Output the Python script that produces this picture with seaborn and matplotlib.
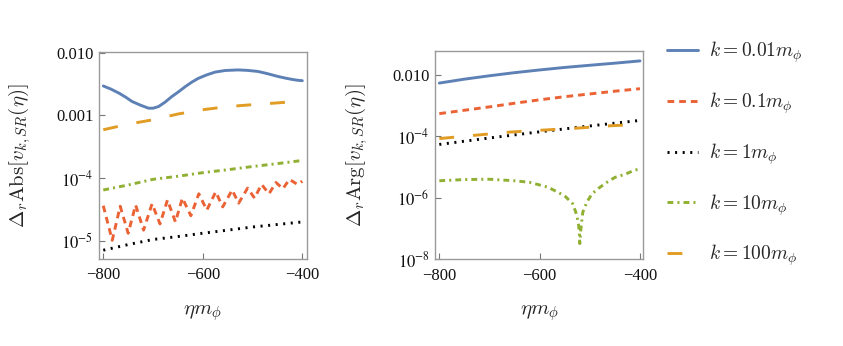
import numpy as np
import pandas as pd
import matplotlib
matplotlib.use("Agg")
import matplotlib.pyplot as plt
from matplotlib.lines import Line2D
import seaborn as sns

# ---------------- data ----------------
labels = [r"$k = 0.01m_\phi$", r"$k = 0.1m_\phi$", r"$k = 1m_\phi$",
          r"$k = 10m_\phi$", r"$k = 100m_\phi$"]

# Left panel: Delta_r Abs
eta_L_k001 = [-800, -785, -768, -755, -742, -725, -709, -700, -689, -676, -662, -648, -635,
              -622, -609, -592, -575, -555, -529, -510, -489, -470, -449, -435, -422, -410, -400]
abs_k001 = [2.94e-3, 2.63e-3, 2.25e-3, 1.95e-3, 1.66e-3, 1.45e-3, 1.30e-3, 1.30e-3, 1.38e-3,
            1.62e-3, 2.00e-3, 2.40e-3, 2.88e-3, 3.39e-3, 3.89e-3, 4.42e-3, 4.90e-3, 5.19e-3,
            5.30e-3, 5.21e-3, 5.01e-3, 4.62e-3, 4.17e-3, 3.94e-3, 3.76e-3, 3.63e-3, 3.57e-3]

eta_L_k01 = [-800, -782, -766, -750, -735, -719, -702, -686, -671, -655, -641, -624, -608, -592,
             -574, -560, -541, -528, -510, -496, -482, -467, -453, -439, -426, -410, -400]
abs_k01 = [3.63e-5, 1.02e-5, 3.55e-5, 1.32e-5, 3.72e-5, 1.48e-5, 3.89e-5, 1.86e-5, 4.47e-5,
           2.00e-5, 4.79e-5, 2.51e-5, 5.62e-5, 3.09e-5, 6.03e-5, 3.47e-5, 6.46e-5, 3.98e-5,
           6.92e-5, 4.79e-5, 7.94e-5, 5.62e-5, 8.51e-5, 6.76e-5, 9.55e-5, 7.94e-5, 8.91e-5]

eta_L_std = [-800, -750, -700, -650, -600, -550, -500, -450, -400]
abs_k1 = [7.08e-6, 8.71e-6, 1.05e-5, 1.17e-5, 1.32e-5, 1.48e-5, 1.66e-5, 1.82e-5, 2.00e-5]
abs_k10 = [6.46e-5, 7.76e-5, 9.55e-5, 1.07e-4, 1.22e-4, 1.36e-4, 1.53e-4, 1.70e-4, 1.91e-4]
abs_k100 = [5.89e-4, 7.24e-4, 8.51e-4, 1.05e-3, 1.23e-3, 1.38e-3, 1.48e-3, 1.58e-3, 1.70e-3]

# Right panel: Delta_r Arg
eta_R_std = [-800, -750, -700, -650, -600, -550, -500, -450, -400]
arg_k001 = [5.28e-3, 7.08e-3, 9.12e-3, 1.15e-2, 1.41e-2, 1.70e-2, 2.00e-2, 2.34e-2, 2.77e-2]
arg_k01 = [5.37e-4, 6.92e-4, 8.91e-4, 1.17e-3, 1.51e-3, 1.91e-3, 2.34e-3, 2.88e-3, 3.47e-3]
eta_R_k1 = [-800, -700, -600, -500, -400]
arg_k1 = [5.37e-5, 8.71e-5, 1.38e-4, 2.14e-4, 3.24e-4]
eta_R_k100 = [-800, -720, -660, -590, -525, -455, -400]
arg_k100 = [8.32e-5, 1.10e-4, 1.35e-4, 1.58e-4, 1.82e-4, 2.19e-4, 2.40e-4]
eta_R_k10 = [-800, -750, -700, -650, -620, -583, -550, -534, -528, -523, -521, -520, -518,
             -516, -514, -506, -496, -483, -466, -450, -430, -410, -400]
arg_k10 = [3.55e-6, 3.89e-6, 3.98e-6, 3.55e-6, 3.16e-6, 2.19e-6, 1.15e-6, 6.31e-7, 3.39e-7,
           1.62e-7, 7.59e-8, 3.24e-8, 8.91e-8, 1.78e-7, 3.39e-7, 7.08e-7, 1.32e-6, 2.00e-6,
           3.16e-6, 4.57e-6, 5.75e-6, 7.94e-6, 8.51e-6]

# ---------------- styling ----------------
colors = {labels[0]: "#5E81B5", labels[1]: "#EB6235", labels[2]: "#000000",
          labels[3]: "#8FB032", labels[4]: "#E19C24"}
dashes = {labels[0]: "", labels[1]: (2.3, 1.7), labels[2]: (0.7, 1.9),
          labels[3]: (2.0, 1.4, 0.7, 1.4), labels[4]: (5.1, 6.5)}
LW = 2.1


def frame(eta_sets, val_sets):
    rows = []
    for lab, e, v in zip(labels, eta_sets, val_sets):
        rows.append(pd.DataFrame({"eta": e, "val": v, "k": lab}))
    return pd.concat(rows, ignore_index=True)


dfL = frame([eta_L_k001, eta_L_k01, eta_L_std, eta_L_std, eta_L_std],
            [abs_k001, abs_k01, abs_k1, abs_k10, abs_k100])
dfR = frame([eta_R_std, eta_R_std, eta_R_k1, eta_R_k10, eta_R_k100],
            [arg_k001, arg_k01, arg_k1, arg_k10, arg_k100])

sns.set_theme(style="white")
plt.rcParams["mathtext.fontset"] = "cm"
plt.rcParams["font.family"] = ["Liberation Serif", "DejaVu Serif"]
plt.rcParams["lines.dash_capstyle"] = "butt"
plt.rcParams["lines.solid_joinstyle"] = "round"

fig = plt.figure(figsize=(8.43, 3.46), dpi=100)
axL = fig.add_axes([99 / 843, 1 - 259 / 346, 208 / 843, 207 / 346])
axR = fig.add_axes([435.3 / 843, 1 - 259.3 / 346, 208 / 843, 208.6 / 346])

for ax, df in ((axL, dfL), (axR, dfR)):
    ax.set_yscale("log")
    sns.lineplot(data=df, x="eta", y="val", hue="k", style="k", hue_order=labels,
                 style_order=labels, palette=colors, dashes=dashes, estimator=None,
                 sort=False, linewidth=LW, legend=False, ax=ax)

axL.set_xlim(-808.6, -390.6)
axL.set_ylim(10 ** -5.29, 10 ** -1.99)
axR.set_xlim(-808, -393.4)
axR.set_ylim(1e-8, 10 ** -1.226)

xt = [-800, -600, -400]
xtl = ["\u2212800", "\u2212600", "\u2212400"]
for ax, yt, ytl in ((axL, [1e-5, 1e-4, 1e-3, 1e-2],
                     [r"$10^{-5}$", r"$10^{-4}$", "0.001", "0.010"]),
                    (axR, [1e-8, 1e-6, 1e-4, 1e-2],
                     [r"$10^{-8}$", r"$10^{-6}$", r"$10^{-4}$", "0.010"])):
    ax.set_xticks(xt)
    ax.set_xticklabels(xtl)
    ax.set_yticks(yt)
    ax.set_yticklabels(ytl)
    ax.yaxis.set_minor_locator(matplotlib.ticker.NullLocator())
    ax.tick_params(axis="both", which="major", direction="in", length=4, width=0.8,
                   color="#777777", labelsize=12, pad=4, left=True, bottom=True,
                   top=False, right=False, labelcolor="#111111")
    ax.tick_params(axis="x", pad=6)
    for t in ax.get_xticklabels() + ax.get_yticklabels():
        t.set_math_fontfamily("stix")
    for s in ax.spines.values():
        s.set_color("#9a9a9a")
        s.set_linewidth(1.0)
    ax.set_xlabel(r"$\eta m_\phi$", fontsize=15, labelpad=14)
    ax.set_ylabel("")

axL.set_ylabel(r"$\Delta_r\mathrm{Abs}[v_{k,SR}(\eta)]$", fontsize=15)
axR.set_ylabel(r"$\Delta_r\mathrm{Arg}[v_{k,SR}(\eta)]$", fontsize=15)
axL.yaxis.set_label_coords(-0.317, 0.5)
axR.yaxis.set_label_coords(-0.314, 0.5)

handles = []
for lab in labels:
    h = Line2D([0], [0], color=colors[lab], lw=LW)
    if dashes[lab]:
        h.set_dashes(dashes[lab])
    handles.append(h)
fig.legend(handles, labels, loc="center left", bbox_to_anchor=(667 / 843, 1 - 154 / 346),
           frameon=False, fontsize=14, handlelength=1.6, handletextpad=0.55,
           labelspacing=1.3, borderpad=0, borderaxespad=0)

fig.savefig("out.png", dpi=100, facecolor="white")
